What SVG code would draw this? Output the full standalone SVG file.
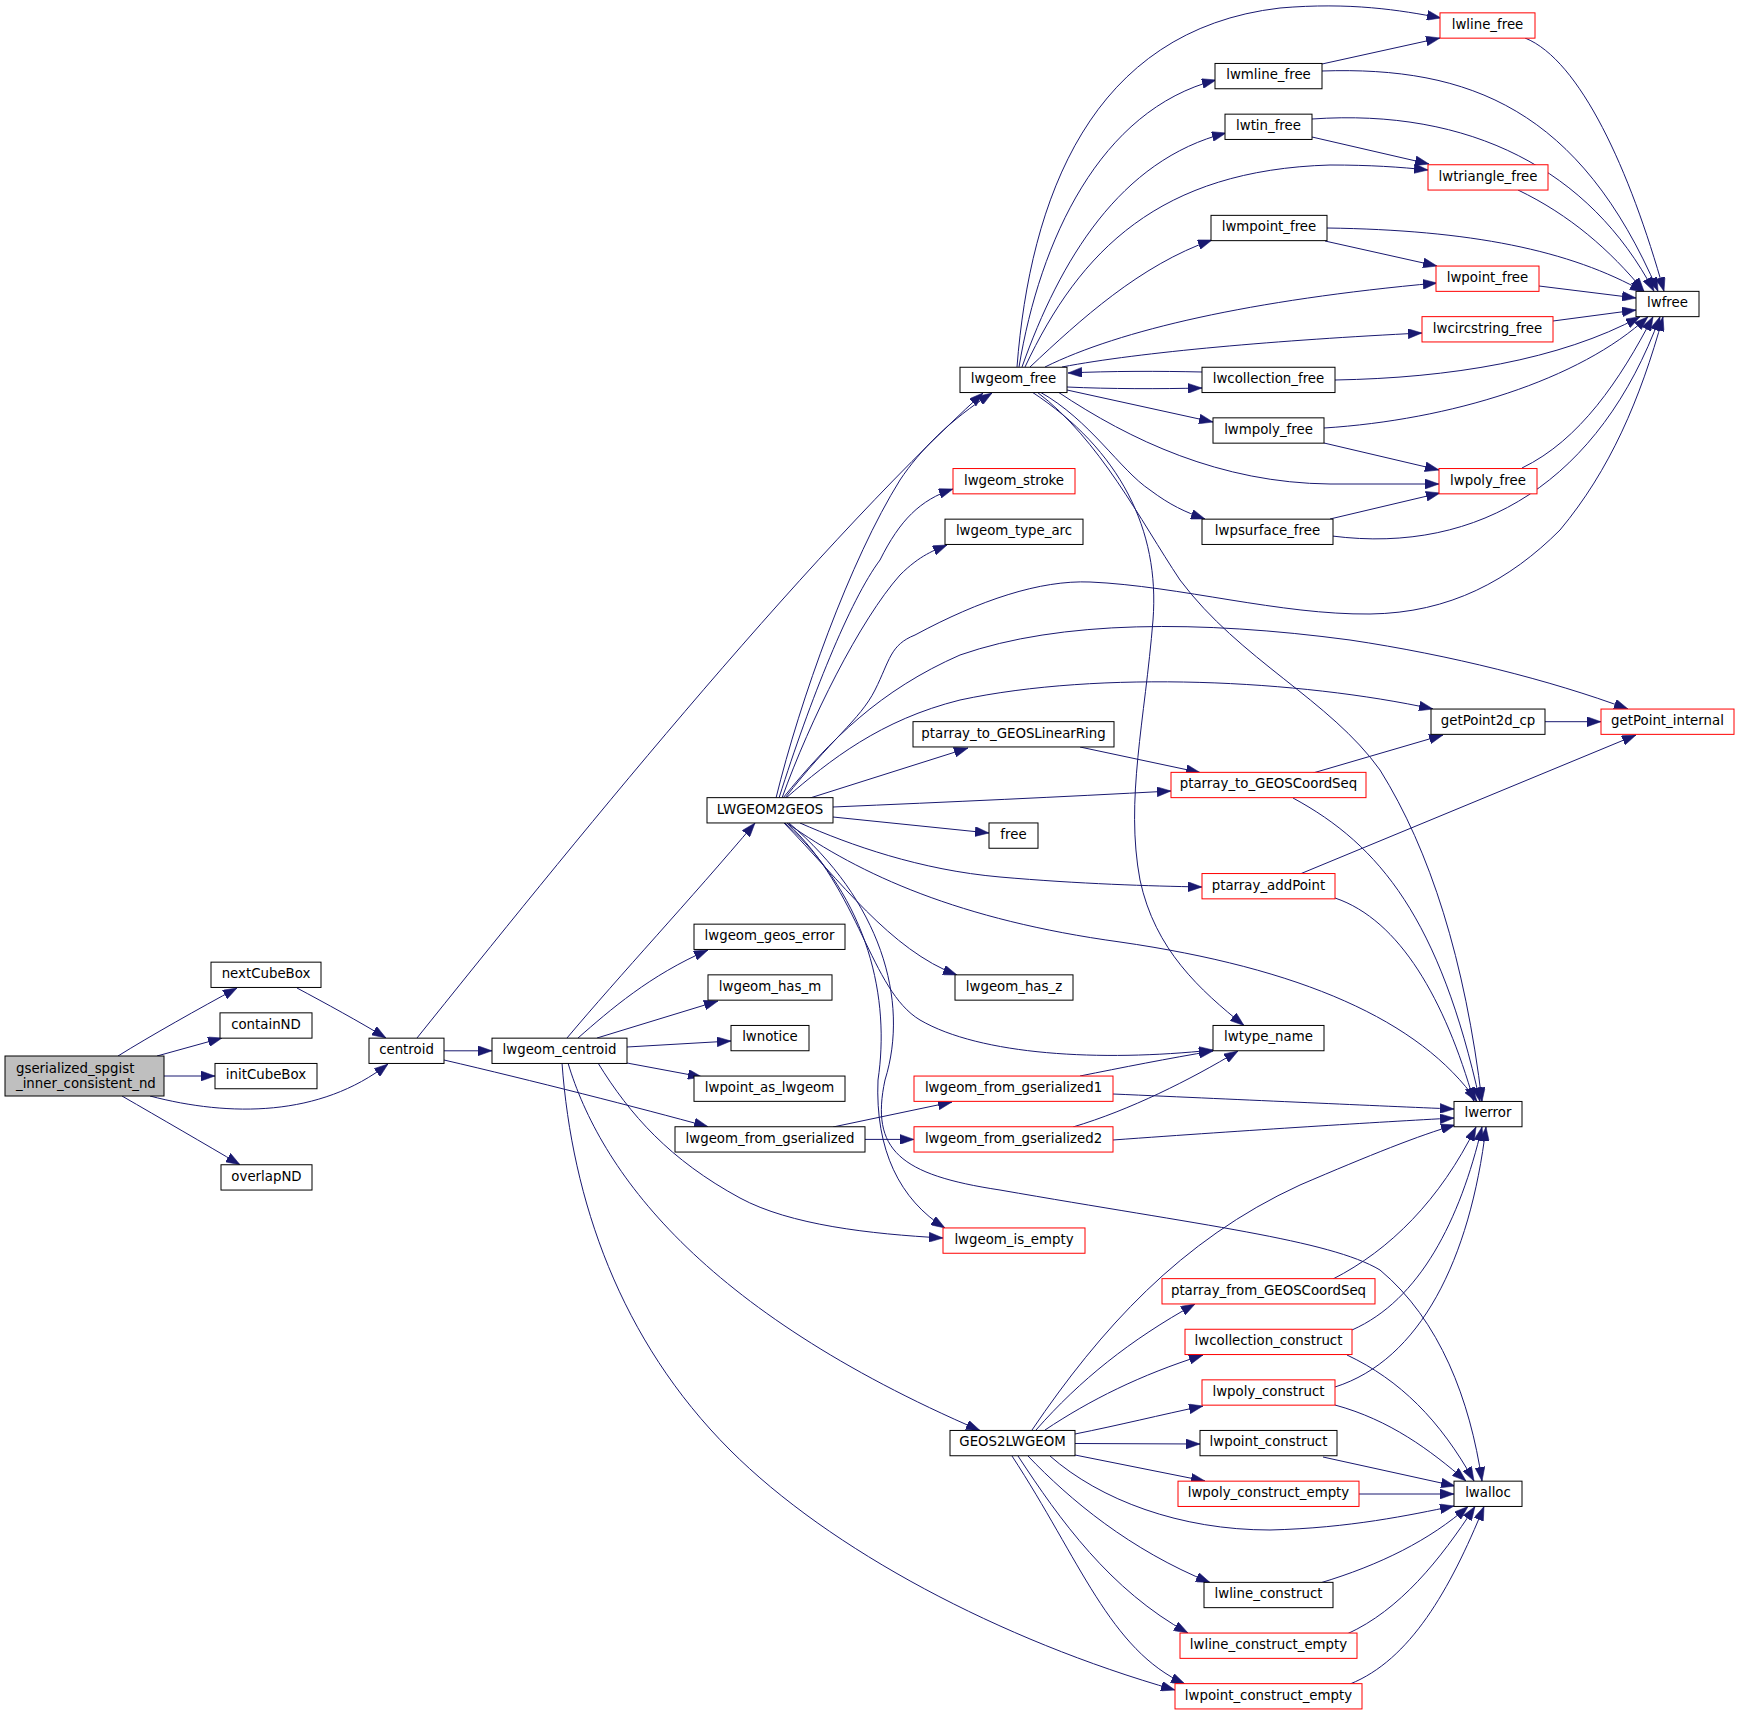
<svg xmlns="http://www.w3.org/2000/svg" width="1740" height="1716" viewBox="0 0 1740 1716">
<defs>
<marker id="ah" markerUnits="userSpaceOnUse" markerWidth="14" markerHeight="10" viewBox="0 0 13.3 9.4" refX="13.3" refY="4.7" orient="auto">
<path d="M0,0 L13.3,4.7 L0,9.4 z" fill="#191970" stroke="#191970" stroke-width="0.5"/>
</marker>
<style>
.n rect{fill:#fff;stroke:#000;stroke-width:1}
.r rect{fill:#fff;stroke:#f00;stroke-width:1}
.root rect{fill:#bfbfbf;stroke:#000;stroke-width:1}
text{font-family:"DejaVu Sans",sans-serif;font-size:13.33px;fill:#000}
.n text,.r text{text-anchor:middle}
#edges path{fill:none;stroke:#191970;stroke-width:1;marker-end:url(#ah)}
</style>
</defs>
<rect width="1740" height="1716" fill="#fff"/>
<g id="edges">
<path d="M118,1056 C150,1036 200,1008 237,988"/>
<path d="M157,1056 L222,1038"/>
<path d="M164,1076 L215,1076"/>
<path d="M150,1096 C230,1117 320,1117 388,1064"/>
<path d="M122,1096 C160,1118 205,1144 240,1164.7"/>
<path d="M297,988 C325,1003 360,1022 386,1038"/>
<path d="M417,1038 C560,860 800,560 983,393"/>
<path d="M444,1050.8 L492,1050.8"/>
<path d="M444,1060 C530,1080 640,1108 708,1126.7"/>
<path d="M567,1038 C620,975 690,900 755,823"/>
<path d="M578,1038 C610,1010 650,975 708,950"/>
<path d="M597,1038 L718,1001"/>
<path d="M627,1047 L731,1041"/>
<path d="M627,1063 L702,1077"/>
<path d="M598,1063 C630,1115 670,1160 740,1198 C790,1225 870,1234 943,1238"/>
<path d="M568,1063 C600,1170 700,1310 980,1430.5"/>
<path d="M562,1063 C572,1200 620,1340 730,1450 C830,1550 1000,1640 1175,1690"/>
<path d="M776,798 C800,700 850,560 900,480 C920,450 950,420 992,393"/>
<path d="M779,798 C810,700 850,600 880,560 C900,520 920,500 953,489"/>
<path d="M782,798 C810,720 860,620 900,575 C920,555 935,550 947,545"/>
<path d="M785,798 C830,740 860,720 875,690 C890,660 890,645 915,635 C980,600 1040,580 1090,582 C1180,586 1280,615 1370,614 C1450,613 1510,580 1560,530 C1610,470 1640,400 1663,317"/>
<path d="M783,798 C830,740 880,690 960,655 C1060,620 1200,620 1350,640 C1450,655 1550,680 1628,709"/>
<path d="M786,798 C830,760 880,720 960,700 C1100,670 1300,680 1433,709"/>
<path d="M810,798 L968,748"/>
<path d="M833,807 C950,802 1060,797 1171,791"/>
<path d="M833,817 L989,833"/>
<path d="M800,823 C850,845 920,870 1000,877 C1080,884 1150,886 1202,887"/>
<path d="M787,823 C860,875 960,920 1120,942 C1300,968 1420,1020 1477,1101.5"/>
<path d="M784,823 C840,880 890,950 957,975"/>
<path d="M787,823 C860,890 870,990 920,1020 C980,1055 1100,1062 1213,1050"/>
<path d="M785,823 C870,900 890,1000 878,1080 C875,1150 900,1200 945,1228"/>
<path d="M789,823 C880,900 910,1000 885,1080 C870,1150 900,1175 1000,1190 C1200,1225 1330,1240 1380,1270 C1440,1320 1470,1400 1482,1481"/>
<path d="M1080,747 L1200,772.5"/>
<path d="M1313,773 L1443,735"/>
<path d="M1293,798 C1380,845 1440,920 1480,1101.5"/>
<path d="M1545,721.7 L1601,721.7"/>
<path d="M1300,874 L1636,735"/>
<path d="M1335,898 C1400,920 1445,1000 1474,1101.5"/>
<path d="M1037,392 C1100,440 1140,520 1180,580 C1240,660 1330,700 1380,770 C1430,850 1465,960 1482,1101.5"/>
<path d="M1032,392 C1120,450 1160,530 1153,620 C1145,720 1125,800 1140,880 C1155,950 1200,990 1244,1025.5"/>
<path d="M1040,392 C1090,420 1120,470 1150,490 C1170,505 1185,512 1205,519"/>
<path d="M1058,392 C1130,440 1220,483 1330,484 L1439,484"/>
<path d="M1067,390 L1213,422"/>
<path d="M1067,387 C1110,389 1160,389 1202,388"/>
<path d="M1202,372 C1160,371 1110,371 1068,373"/>
<path d="M1062,367 C1140,352 1280,340 1422,333"/>
<path d="M1045,367 C1120,330 1250,300 1437,283"/>
<path d="M1030,367 C1080,320 1140,265 1212,240"/>
<path d="M1025,367 C1080,250 1160,170 1330,165 C1370,165 1400,167 1428,170"/>
<path d="M1022,367 C1060,260 1120,160 1226,133"/>
<path d="M1019,367 C1040,240 1100,110 1216,80"/>
<path d="M1017,367 C1030,200 1090,30 1280,8 C1350,2 1400,10 1441,18"/>
<path d="M1322,64 L1440,38"/>
<path d="M1322,71 C1470,66 1580,110 1658,291.3"/>
<path d="M1312,137 L1429,164"/>
<path d="M1312,119 C1470,108 1590,170 1654,291.3"/>
<path d="M1525,38 C1580,60 1630,170 1664,291.3"/>
<path d="M1518,190 C1570,215 1610,250 1644,291.3"/>
<path d="M1325,241 L1437,266"/>
<path d="M1327,228 C1470,230 1570,250 1644,292"/>
<path d="M1539,286 L1636,298"/>
<path d="M1553,321 L1636,310"/>
<path d="M1335,380 C1450,378 1560,360 1640,316.7"/>
<path d="M1324,443 L1439,470"/>
<path d="M1324,428 C1450,420 1580,380 1648,316.7"/>
<path d="M1330,519 L1440,493"/>
<path d="M1332,536 C1480,555 1600,480 1660,316.7"/>
<path d="M1522,468 C1580,440 1620,380 1653,316.7"/>
<path d="M833,1127 L952,1102"/>
<path d="M865,1139.4 L914,1139.4"/>
<path d="M1080,1076 C1120,1068 1170,1058 1213,1051"/>
<path d="M1073,1127 C1130,1110 1190,1080 1238,1051"/>
<path d="M1113,1094 C1250,1100 1380,1106 1454,1109"/>
<path d="M1113,1140 C1250,1130 1380,1122 1454,1118"/>
<path d="M1032,1430 C1100,1330 1180,1240 1300,1185 C1370,1155 1420,1135 1455,1125"/>
<path d="M1036,1430 C1080,1380 1130,1340 1195,1304"/>
<path d="M1045,1430 C1090,1400 1140,1375 1203,1355"/>
<path d="M1075,1434 C1120,1425 1160,1415 1203,1406"/>
<path d="M1075,1443.5 L1200,1444"/>
<path d="M1075,1455 L1205,1481"/>
<path d="M1050,1456 C1100,1500 1180,1530 1270,1530 C1350,1528 1410,1515 1454,1506"/>
<path d="M1028,1456 C1070,1500 1130,1550 1210,1582.5"/>
<path d="M1018,1456 C1060,1520 1110,1590 1188,1633"/>
<path d="M1012,1456 C1080,1560 1110,1650 1185,1684"/>
<path d="M1333,1279 C1390,1250 1440,1200 1476,1127"/>
<path d="M1352,1330 C1420,1300 1460,1220 1482,1127"/>
<path d="M1347,1355 C1400,1380 1440,1420 1474,1481"/>
<path d="M1335,1387 C1420,1360 1470,1260 1486,1127"/>
<path d="M1335,1405 C1390,1420 1430,1450 1466,1481"/>
<path d="M1323,1457 L1455,1486"/>
<path d="M1359,1494 L1454,1494"/>
<path d="M1320,1583 C1380,1565 1430,1540 1468,1506.5"/>
<path d="M1347,1634 C1400,1610 1440,1560 1475,1506.5"/>
<path d="M1350,1684 C1410,1660 1450,1590 1484,1506.5"/>
</g>
<g id="nodes">
<g id="gserialized_spgist_inner_consistent_nd" class="root"><rect x="5" y="1056" width="159" height="40"/><text x="16" y="1073.3">gserialized_spgist</text><text x="16" y="1088">_inner_consistent_nd</text></g>
<g id="nextCubeBox" class="n"><rect x="211" y="962.15" width="110" height="25.3"/><text x="266" y="978.1">nextCubeBox</text></g>
<g id="containND" class="n"><rect x="220" y="1012.85" width="92" height="25.3"/><text x="266" y="1028.8">containND</text></g>
<g id="initCubeBox" class="n"><rect x="215" y="1063.45" width="102" height="25.3"/><text x="266" y="1079.4">initCubeBox</text></g>
<g id="overlapND" class="n"><rect x="221" y="1164.75" width="91" height="25.3"/><text x="266.5" y="1180.7">overlapND</text></g>
<g id="centroid" class="n"><rect x="369" y="1038.15" width="75" height="25.3"/><text x="406.5" y="1054.1">centroid</text></g>
<g id="lwgeom_centroid" class="n"><rect x="492" y="1038.15" width="135" height="25.3"/><text x="559.5" y="1054.1">lwgeom_centroid</text></g>
<g id="LWGEOM2GEOS" class="n"><rect x="707" y="797.65" width="126" height="25.3"/><text x="770" y="813.6">LWGEOM2GEOS</text></g>
<g id="lwgeom_geos_error" class="n"><rect x="694" y="924.15" width="151" height="25.3"/><text x="769.5" y="940.1">lwgeom_geos_error</text></g>
<g id="lwgeom_has_m" class="n"><rect x="708" y="974.85" width="124" height="25.3"/><text x="770" y="990.8">lwgeom_has_m</text></g>
<g id="lwnotice" class="n"><rect x="731" y="1025.45" width="78" height="25.3"/><text x="770" y="1041.4">lwnotice</text></g>
<g id="lwpoint_as_lwgeom" class="n"><rect x="694" y="1076.05" width="151" height="25.3"/><text x="769.5" y="1092">lwpoint_as_lwgeom</text></g>
<g id="lwgeom_from_gserialized" class="n"><rect x="675" y="1126.75" width="190" height="25.3"/><text x="770" y="1142.7">lwgeom_from_gserialized</text></g>
<g id="lwgeom_free" class="n"><rect x="960" y="367.25" width="107" height="25.3"/><text x="1013.5" y="383.2">lwgeom_free</text></g>
<g id="lwgeom_stroke" class="r"><rect x="953" y="468.55" width="122" height="25.3"/><text x="1014" y="484.5">lwgeom_stroke</text></g>
<g id="lwgeom_type_arc" class="n"><rect x="945" y="519.15" width="138" height="25.3"/><text x="1014" y="535.1">lwgeom_type_arc</text></g>
<g id="ptarray_to_GEOSLinearRing" class="n"><rect x="913" y="721.65" width="201" height="25.3"/><text x="1013.5" y="737.6">ptarray_to_GEOSLinearRing</text></g>
<g id="free" class="n"><rect x="989" y="822.95" width="49" height="25.3"/><text x="1013.5" y="838.9">free</text></g>
<g id="lwgeom_has_z" class="n"><rect x="955" y="974.85" width="118" height="25.3"/><text x="1014" y="990.8">lwgeom_has_z</text></g>
<g id="lwgeom_from_gserialized1" class="r"><rect x="914" y="1076.05" width="199" height="25.3"/><text x="1013.5" y="1092">lwgeom_from_gserialized1</text></g>
<g id="lwgeom_from_gserialized2" class="r"><rect x="914" y="1126.75" width="199" height="25.3"/><text x="1013.5" y="1142.7">lwgeom_from_gserialized2</text></g>
<g id="lwgeom_is_empty" class="r"><rect x="943" y="1227.95" width="142" height="25.3"/><text x="1014" y="1243.9">lwgeom_is_empty</text></g>
<g id="GEOS2LWGEOM" class="n"><rect x="950" y="1430.45" width="125" height="25.3"/><text x="1012.5" y="1446.4">GEOS2LWGEOM</text></g>
<g id="lwline_free" class="r"><rect x="1440" y="12.85" width="95" height="25.3"/><text x="1487.5" y="28.8">lwline_free</text></g>
<g id="lwmline_free" class="n"><rect x="1215" y="63.45" width="107" height="25.3"/><text x="1268.5" y="79.4">lwmline_free</text></g>
<g id="lwtin_free" class="n"><rect x="1225" y="114.15" width="87" height="25.3"/><text x="1268.5" y="130.1">lwtin_free</text></g>
<g id="lwtriangle_free" class="r"><rect x="1428" y="164.75" width="120" height="25.3"/><text x="1488" y="180.7">lwtriangle_free</text></g>
<g id="lwmpoint_free" class="n"><rect x="1211" y="215.35" width="116" height="25.3"/><text x="1269" y="231.3">lwmpoint_free</text></g>
<g id="lwpoint_free" class="r"><rect x="1436" y="266.05" width="103" height="25.3"/><text x="1487.5" y="282">lwpoint_free</text></g>
<g id="lwfree" class="n"><rect x="1636" y="291.35" width="63" height="25.3"/><text x="1667.5" y="307.3">lwfree</text></g>
<g id="lwcircstring_free" class="r"><rect x="1422" y="316.65" width="131" height="25.3"/><text x="1487.5" y="332.6">lwcircstring_free</text></g>
<g id="lwcollection_free" class="n"><rect x="1202" y="367.25" width="133" height="25.3"/><text x="1268.5" y="383.2">lwcollection_free</text></g>
<g id="lwmpoly_free" class="n"><rect x="1213" y="417.85" width="111" height="25.3"/><text x="1268.5" y="433.8">lwmpoly_free</text></g>
<g id="lwpoly_free" class="r"><rect x="1439" y="468.55" width="98" height="25.3"/><text x="1488" y="484.5">lwpoly_free</text></g>
<g id="lwpsurface_free" class="n"><rect x="1202" y="519.15" width="131" height="25.3"/><text x="1267.5" y="535.1">lwpsurface_free</text></g>
<g id="getPoint2d_cp" class="n"><rect x="1431" y="709.05" width="114" height="25.3"/><text x="1488" y="725">getPoint2d_cp</text></g>
<g id="getPoint_internal" class="r"><rect x="1601" y="709.05" width="133" height="25.3"/><text x="1667.5" y="725">getPoint_internal</text></g>
<g id="ptarray_to_GEOSCoordSeq" class="r"><rect x="1171" y="772.35" width="195" height="25.3"/><text x="1268.5" y="788.3">ptarray_to_GEOSCoordSeq</text></g>
<g id="ptarray_addPoint" class="r"><rect x="1202" y="873.55" width="133" height="25.3"/><text x="1268.5" y="889.5">ptarray_addPoint</text></g>
<g id="lwtype_name" class="n"><rect x="1213" y="1025.45" width="111" height="25.3"/><text x="1268.5" y="1041.4">lwtype_name</text></g>
<g id="lwerror" class="n"><rect x="1454" y="1101.45" width="68" height="25.3"/><text x="1488" y="1117.4">lwerror</text></g>
<g id="ptarray_from_GEOSCoordSeq" class="r"><rect x="1162" y="1278.65" width="213" height="25.3"/><text x="1268.5" y="1294.6">ptarray_from_GEOSCoordSeq</text></g>
<g id="lwcollection_construct" class="r"><rect x="1185" y="1329.25" width="167" height="25.3"/><text x="1268.5" y="1345.2">lwcollection_construct</text></g>
<g id="lwpoly_construct" class="r"><rect x="1202" y="1379.85" width="133" height="25.3"/><text x="1268.5" y="1395.8">lwpoly_construct</text></g>
<g id="lwpoint_construct" class="n"><rect x="1200" y="1430.45" width="137" height="25.3"/><text x="1268.5" y="1446.4">lwpoint_construct</text></g>
<g id="lwpoly_construct_empty" class="r"><rect x="1178" y="1481.15" width="181" height="25.3"/><text x="1268.5" y="1497.1">lwpoly_construct_empty</text></g>
<g id="lwalloc" class="n"><rect x="1454" y="1481.15" width="68" height="25.3"/><text x="1488" y="1497.1">lwalloc</text></g>
<g id="lwline_construct" class="n"><rect x="1204" y="1582.35" width="129" height="25.3"/><text x="1268.5" y="1598.3">lwline_construct</text></g>
<g id="lwline_construct_empty" class="r"><rect x="1180" y="1633.05" width="177" height="25.3"/><text x="1268.5" y="1649">lwline_construct_empty</text></g>
<g id="lwpoint_construct_empty" class="r"><rect x="1175" y="1683.65" width="187" height="25.3"/><text x="1268.5" y="1699.6">lwpoint_construct_empty</text></g>
</g>
</svg>
